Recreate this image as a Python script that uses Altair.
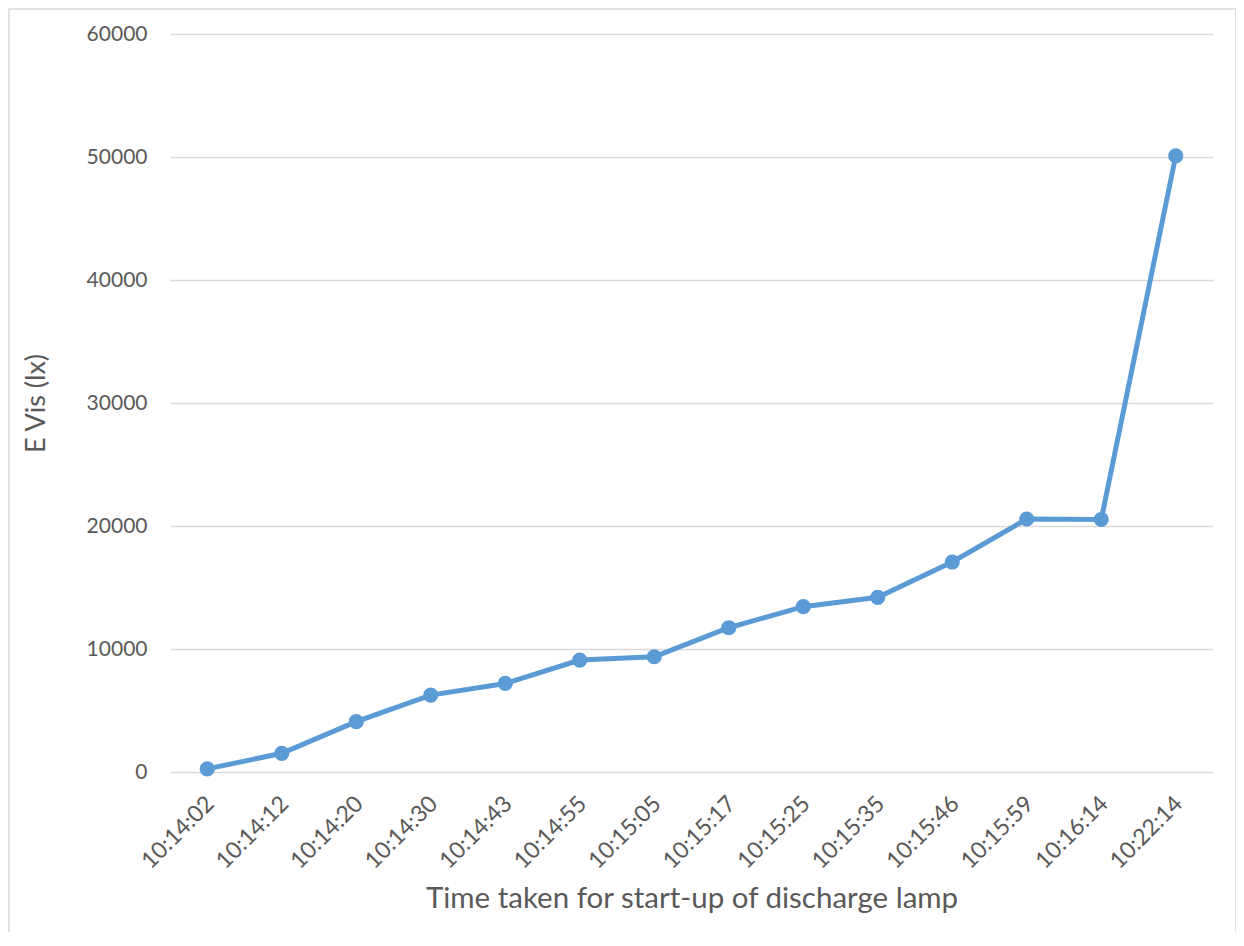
import altair as alt
import pandas as pd

times = ["10:14:02", "10:14:12", "10:14:20", "10:14:30", "10:14:43", "10:14:55",
         "10:15:05", "10:15:17", "10:15:25", "10:15:35", "10:15:46", "10:15:59",
         "10:16:14", "10:22:14"]
evis = [250, 1520, 4090, 6250, 7200, 9100, 9370, 11730, 13440, 14200, 17070,
        20570, 20530, 50100]
y_ticks = [0, 10000, 20000, 30000, 40000, 50000, 60000]

df = pd.DataFrame({"time": times, "evis": evis})

FONT = "Lato"
GREY = "#595959"
BLUE = "#5B9BD5"

base = alt.Chart(df)

line = base.mark_line(
    color=BLUE, strokeWidth=5,
    point=alt.OverlayMarkDef(filled=True, size=230, color=BLUE, opacity=1),
).encode(
    x=alt.X("time:N", sort=times,
            scale=alt.Scale(type="point", padding=0.5),
            axis=alt.Axis(title="Time taken for start-up of discharge lamp",
                          labelAngle=-45, labelAlign="right", labelBaseline="top",
                          labelPadding=20, labelOffset=-5,
                          ticks=False, domain=False, grid=False,
                          labelFontSize=23, labelColor=GREY, labelFont=FONT,
                          titleFontSize=29.5, titleColor=GREY, titleFont=FONT,
                          titleFontWeight="normal", titlePadding=12)),
    y=alt.Y("evis:Q",
            scale=alt.Scale(domain=[0, 60000], nice=False),
            axis=alt.Axis(title="E Vis (lx)", values=y_ticks, format="d",
                          ticks=False, domain=False, grid=True,
                          gridColor="#D9D9D9", gridWidth=1.4,
                          labelFontSize=21, labelColor=GREY, labelFont=FONT,
                          labelPadding=23,
                          titleFontSize=27, titleColor=GREY, titleFont=FONT,
                          titleFontWeight="normal", titlePadding=36)),
)

border = alt.Chart(pd.DataFrame({"b": [0]})).mark_rect(
    fill=None, stroke="#D9D9D9", strokeWidth=1.5
).encode(
    x=alt.value(-161), x2=alt.value(1066),
    y=alt.value(-25), y2=alt.value(960),
)

chart = alt.layer(border, line).properties(
    width=1043, height=738,
    background="white",
    autosize=alt.AutoSizeParams(type="none"),
    padding={"left": 162, "top": 26, "right": 23, "bottom": 160},
).configure_view(stroke=None)

chart.save("out.html", embed_options={"renderer": "svg", "actions": False})
